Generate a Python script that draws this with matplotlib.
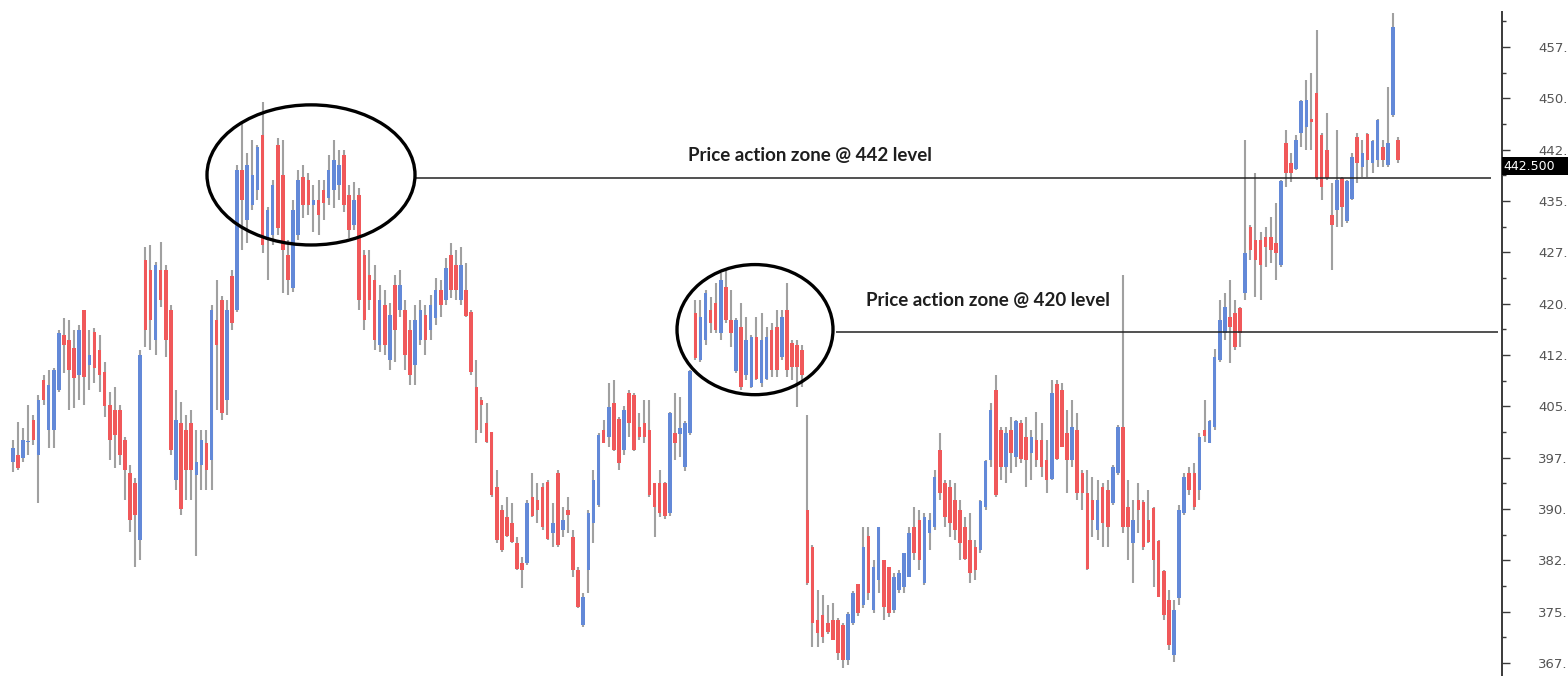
import numpy as np
import matplotlib
matplotlib.use("Agg")
import matplotlib.pyplot as plt
from matplotlib.patches import Ellipse, Rectangle
import matplotlib.transforms as mtransforms

# ---------------- data (price) ----------------
highs = [
    400.1, 402.7, 401.8, 405.2, 403.7, 406.7, 409.6, 410.3, 410.6, 416.2,
    417.9, 417.6, 416.2, 416.9, 419.1, 416.2, 416.4, 415.4, 411.5, 407.1, 407.8,
    405.2, 400.5, 396.4, 394.5, 413.2, 428.3, 428.6, 426.1, 429.0, 425.7,
    419.8, 407.4, 405.6, 403.7, 404.5, 401.5, 401.5, 401.5, 419.8, 423.5,
    421.1, 420.5, 424.9, 440.3, 446.4, 442.0, 443.9, 443.2, 449.5, 434.1,
    438.1, 444.2, 443.9, 429.3, 435.2, 439.5, 440.3, 439.1, 437.4, 438.1,
    438.1, 441.7, 443.9, 442.5, 442.5, 437.4, 437.8, 436.9, 427.9, 427.9,
    425.7, 422.7, 422.0, 420.1, 424.2, 424.9, 420.5, 417.6, 419.8, 420.5,
    419.8, 421.3, 423.8, 423.5, 426.7, 428.9, 427.9, 428.2, 425.9, 419.1,
    411.8, 406.4, 405.5, 401.2, 395.7, 390.6, 391.7, 390.9, 385.9, 383.0,
    391.3, 395.2, 393.8, 393.8, 394.2, 390.9, 395.7, 390.3, 391.7, 386.9,
    381.5, 377.7, 389.8, 395.7, 401.1, 403.0, 408.4, 408.8, 403.4, 405.0,
    407.4, 406.9, 404.0, 405.9, 405.9, 393.8, 395.7, 394.0, 404.2, 406.9,
    406.4, 402.8, 410.3, 420.5, 420.5, 422.0, 421.0, 423.0, 424.5, 424.9,
    422.0, 417.9, 420.1, 418.1, 415.4, 418.1, 418.6, 416.6, 417.2, 419.1,
    419.1, 423.0, 414.7, 414.7, 414.0, 403.7, 384.8, 378.1, 377.5, 376.0,
    376.2, 374.0, 373.3, 374.9, 378.0, 379.0, 387.4, 387.4, 382.5,
    387.4, 382.5, 381.5, 380.6, 381.1, 383.5, 387.4, 390.3, 389.8, 389.4,
    389.4, 395.7, 401.1, 394.2, 394.2, 393.8, 391.3, 388.8, 389.4, 385.4,
    391.3, 397.1, 405.5, 409.6, 402.0, 402.0, 403.4, 403.0, 403.0, 403.4,
    401.5, 404.2, 402.6, 400.1, 408.8, 408.8, 408.4, 404.5, 405.9,
    404.0, 395.7, 395.7, 394.7, 394.2, 393.8, 394.2, 396.4, 402.3, 424.2,
    394.2, 391.3, 393.8, 391.3, 392.8, 390.3, 385.4, 381.1, 378.1, 376.7,
    390.6, 395.2, 396.1, 396.7, 401.1, 405.9, 403.0, 413.4, 420.5, 421.6,
    423.5, 420.5, 419.5, 443.9, 431.5, 439.1, 430.4, 431.2, 432.6, 434.7,
    438.1, 445.4, 442.0, 444.7, 449.8, 452.7, 453.7, 460.0, 444.9, 447.9,
    437.6, 445.4, 438.5, 438.1, 442.0, 444.9, 443.9, 444.9, 443.9, 446.9,
    443.9, 451.7, 462.5, 444.4,
]
lows = [
    395.4, 395.7, 396.9, 397.9, 399.3, 390.9, 405.2, 398.9, 398.9, 407.1,
    409.9, 404.5, 404.8, 405.9, 405.2, 407.4, 408.4, 407.1, 403.5, 397.1, 396.0,
    396.4, 391.3, 386.6, 381.5, 382.5, 413.7, 413.2, 412.5, 419.5, 412.2,
    397.9, 392.8, 389.1, 391.3, 391.3, 383.1, 392.8, 392.8, 392.8, 404.5,
    403.0, 403.7, 416.2, 418.8, 427.9, 428.9, 433.7, 435.2, 427.4, 423.5,
    428.6, 430.0, 421.6, 421.3, 421.7, 429.3, 432.5, 433.0, 430.5, 430.0,
    432.2, 434.4, 434.0, 435.2, 433.4, 429.6, 430.8, 419.1, 416.2, 419.1,
    413.2, 412.9, 412.5, 410.3, 411.5, 418.0, 410.3, 408.1, 408.1, 414.0,
    412.5, 414.7, 416.9, 418.0, 419.8, 420.8, 420.5, 419.8, 418.0, 409.6,
    399.6, 401.1, 399.6, 391.7, 385.0, 383.7, 385.9, 385.0, 381.1, 378.4,
    381.8, 388.8, 387.9, 386.9, 385.4, 384.4, 384.4, 385.9, 386.5, 380.0,
    375.5, 372.7, 377.7, 385.0, 390.3, 399.6, 399.0, 398.4, 395.7, 397.9,
    400.5, 398.4, 400.1, 399.6, 391.7, 385.9, 388.8, 388.6, 389.0, 397.1,
    397.6, 395.5, 400.8, 411.8, 411.5, 414.0, 415.7, 415.7, 414.7, 417.2,
    413.7, 409.9, 407.4, 408.8, 407.7, 408.8, 407.8, 408.8, 409.3, 409.3,
    411.8, 409.3, 408.8, 404.9, 407.8, 378.9, 369.8, 369.8, 370.4, 371.8,
    370.8, 368.0, 366.8, 367.2, 373.0, 374.4, 375.5, 376.7, 374.8,
    377.7, 373.8, 374.2, 374.8, 377.7, 377.7, 380.0, 382.5, 381.1, 378.9,
    384.0, 387.0, 391.3, 387.3, 385.9, 385.4, 382.5, 382.5, 379.2, 379.6,
    383.5, 389.8, 396.1, 391.7, 394.2, 393.8, 395.2, 396.1, 396.7, 393.2,
    394.2, 396.1, 394.7, 392.3, 394.2, 397.1, 399.0, 392.3, 396.1,
    391.3, 389.8, 381.1, 385.9, 385.4, 384.4, 384.4, 390.6, 394.9, 386.5,
    382.5, 379.2, 386.5, 384.0, 385.0, 378.6, 377.1, 373.8, 369.4, 367.6,
    376.0, 389.1, 392.0, 389.8, 391.3, 399.8, 399.6, 401.5, 411.5, 414.7,
    411.3, 413.2, 413.7, 420.5, 426.4, 421.0, 420.5, 425.4, 426.0, 423.5,
    425.4, 437.1, 437.8, 439.5, 442.9, 442.5, 442.5, 438.1, 435.2, 438.1,
    424.9, 431.2, 431.2, 431.8, 435.2, 437.6, 438.5, 438.5, 439.1, 440.0,
    440.0, 440.0, 447.3, 440.6,
]
opens = [
    396.9, 397.9, 397.4, 399.8, 403.0, 397.9, 408.8, 401.5, 401.5, 407.4,
    415.4, 414.7, 413.5, 409.6, 419.1, 411.0, 415.9, 413.2, 410.0, 405.2, 404.5,
    404.5, 400.1, 395.3, 393.8, 385.4, 426.4, 424.9, 414.7, 424.9, 424.9,
    419.1, 394.2, 402.6, 401.5, 402.6, 395.0, 396.4, 399.6, 397.1, 417.6,
    420.5, 405.9, 424.0, 419.1, 439.5, 432.2, 434.4, 436.6, 444.7, 429.3,
    430.0, 443.2, 438.8, 427.1, 422.3, 430.0, 438.5, 438.1, 434.4, 435.2,
    436.6, 435.5, 436.6, 437.4, 441.7, 435.9, 431.5, 435.9, 427.1, 424.2,
    423.5, 414.0, 419.8, 411.8, 422.7, 419.1, 419.1, 416.2, 411.0, 414.7,
    418.3, 416.2, 417.9, 422.0, 420.5, 427.1, 425.7, 420.5, 422.0, 418.8,
    407.8, 405.9, 402.6, 401.2, 393.2, 389.8, 388.8, 387.9, 385.0, 382.1,
    382.1, 391.7, 391.3, 393.2, 394.0, 386.5, 395.3, 386.9, 389.8, 385.9,
    381.1, 373.0, 381.1, 388.0, 390.6, 401.5, 400.5, 405.5, 403.2, 398.6,
    406.9, 406.7, 402.0, 402.6, 401.5, 393.8, 393.8, 393.8, 389.4, 401.1,
    401.0, 396.1, 401.1, 418.6, 411.8, 414.7, 419.1, 420.1, 415.7, 422.4,
    417.6, 410.1, 416.6, 409.6, 407.8, 415.1, 408.4, 409.0, 416.2, 416.6,
    412.2, 419.1, 414.3, 414.0, 413.2, 389.8, 384.4, 373.8, 374.5, 373.4,
    373.8, 373.8, 373.0, 367.9, 373.3, 379.0, 375.9, 386.0, 375.2,
    379.6, 382.5, 381.5, 375.2, 378.1, 378.6, 380.0, 387.4, 388.4, 379.2,
    386.5, 387.4, 398.6, 393.8, 393.2, 391.3, 389.8, 387.4, 385.4, 384.4,
    384.0, 390.3, 397.1, 407.4, 401.5, 396.1, 401.5, 397.6, 402.6, 400.5,
    398.2, 400.1, 400.1, 397.1, 394.4, 408.3, 407.4, 401.1, 397.1,
    401.5, 395.3, 392.3, 391.3, 386.9, 393.2, 392.8, 390.9, 395.2, 402.0,
    390.3, 385.0, 391.3, 391.0, 388.4, 390.1, 385.3, 381.0, 376.7, 368.6,
    377.0, 389.4, 395.3, 395.3, 392.8, 401.5, 399.7, 402.0, 411.8, 415.7,
    418.1, 418.6, 419.3, 421.6, 431.2, 429.3, 429.3, 429.7, 429.7, 428.9,
    425.6, 443.5, 440.6, 439.7, 444.9, 445.8, 447.0, 450.8, 444.6, 442.5,
    433.0, 433.7, 438.3, 432.0, 435.3, 444.4, 440.0, 444.8, 440.6, 441.0,
    442.9, 440.2, 447.5, 443.9,
]
closes = [
    398.9, 396.0, 400.1, 400.0, 400.1, 405.9, 405.9, 408.1, 410.3, 415.7,
    414.0, 410.3, 409.1, 416.2, 409.3, 412.5, 410.6, 409.6, 405.0, 400.1, 400.8,
    397.9, 395.7, 388.4, 389.1, 412.5, 416.2, 417.6, 425.7, 420.5, 414.7,
    398.6, 403.0, 390.0, 395.7, 395.7, 396.9, 400.1, 395.7, 419.1, 414.0,
    404.0, 419.1, 417.2, 439.5, 435.2, 440.3, 438.8, 442.9, 428.6, 433.7,
    437.4, 431.1, 427.9, 423.5, 433.7, 438.1, 434.4, 434.4, 435.2, 433.0,
    434.7, 439.5, 441.0, 440.3, 434.4, 430.8, 435.2, 420.5, 417.6, 420.5,
    414.7, 420.5, 414.0, 418.3, 416.2, 422.7, 412.5, 409.6, 417.6, 419.1,
    414.7, 419.8, 422.0, 419.8, 425.2, 422.0, 422.0, 425.7, 418.2, 410.0,
    401.5, 405.2, 399.8, 392.0, 385.4, 384.0, 386.0, 385.2, 381.3, 381.1,
    390.9, 389.0, 389.8, 387.3, 385.6, 388.0, 384.7, 388.4, 389.1, 381.1,
    375.7, 377.1, 389.4, 394.2, 400.8, 399.7, 404.9, 398.6, 396.7, 404.5,
    402.6, 398.6, 400.5, 400.5, 392.0, 390.3, 389.4, 389.0, 404.0, 399.6,
    401.8, 402.6, 410.1, 412.0, 418.1, 421.6, 417.2, 416.2, 423.5, 417.6,
    415.7, 417.6, 407.8, 414.7, 415.1, 409.0, 414.7, 415.1, 410.3, 410.3,
    418.1, 410.3, 410.7, 410.7, 409.6, 379.2, 373.3, 371.9, 371.3, 372.0,
    370.9, 369.0, 367.9, 374.7, 377.7, 374.8, 384.4, 377.7, 381.5,
    387.3, 375.7, 374.8, 380.1, 380.6, 383.5, 386.5, 383.6, 382.5, 388.8,
    388.4, 394.7, 392.3, 388.8, 387.9, 386.9, 385.0, 382.7, 380.6, 381.1,
    391.1, 397.0, 404.5, 392.0, 396.1, 401.1, 398.2, 402.8, 397.3, 397.1,
    400.5, 397.1, 396.1, 394.2, 406.9, 397.3, 399.1, 397.1, 402.0,
    392.3, 392.3, 381.3, 388.4, 391.3, 387.9, 387.4, 396.1, 402.0, 387.4,
    387.4, 388.4, 389.8, 384.4, 385.2, 382.5, 377.2, 374.5, 370.1, 375.2,
    389.8, 394.7, 392.8, 390.3, 400.5, 400.6, 402.9, 412.2, 417.6, 419.5,
    416.6, 413.7, 415.7, 427.4, 427.9, 426.4, 425.7, 428.3, 427.9, 427.4,
    437.9, 439.1, 439.1, 443.9, 449.6, 449.8, 446.5, 438.3, 437.1, 438.3,
    431.5, 438.1, 434.1, 437.9, 441.4, 440.6, 442.0, 441.0, 443.7, 446.8,
    441.0, 443.5, 460.4, 441.0,
]

y_ticks = [367.5, 375.0, 382.5, 390.0, 397.5, 405.0, 412.5, 420.0, 427.5,
           435.0, 442.5, 450.0, 457.5]
y_tick_labels = ["367.", "375.", "382.", "390.", "397.", "405.", "412.",
                 "420.", "427.", "435.", "442.", "450.", "457."]
last_price = 442.5
last_price_label = "442.500"
zone_levels = [438.4, 415.9]
zone_labels = ["Price action zone @ 442 level", "Price action zone @ 420 level"]

# ---------------- figure ----------------
W, H = 1568, 676
fig = plt.figure(figsize=(W / 100, H / 100), dpi=100)
ax_right_px = 1502
ax_top_px = 12
ax = fig.add_axes([0, 0, ax_right_px / W, (H - ax_top_px) / H])

n = len(highs)
x = np.arange(n)
first_px, last_px = 13, 1398
s = (last_px - first_px) / (n - 1)          # pixels per bar
xmin = -first_px / s
xmax = xmin + ax_right_px / s
ax.set_xlim(xmin, xmax)
ax.set_ylim(365.6, 462.6)

def px2x(p):
    return (p - first_px) / s

o = np.array(opens)
c = np.array(closes)
hi = np.array(highs)
lo = np.array(lows)

red = "#f0585a"
blue = "#6389d8"
gray = "#a0a0a0"

ax.vlines(x, lo, hi, colors=gray, linewidth=1.5, zorder=2)
up = c >= o
body_w = 3.6 / s
ax.bar(x[up], (c - o)[up], bottom=o[up], width=body_w, color=blue,
       linewidth=0, zorder=3)
ax.bar(x[~up], (c - o)[~up], bottom=o[~up], width=body_w, color=red,
       linewidth=0, zorder=3)

# zones: ellipses + horizontal lines
ppu = 6.84  # pixels per price unit
e1 = Ellipse((px2x(311), 438.8), 208 / s, 140 / ppu, fill=False,
             edgecolor="black", linewidth=2.4, zorder=5)
e2 = Ellipse((px2x(755), 416.2), 156 / s, 130 / ppu, fill=False,
             edgecolor="black", linewidth=2.4, zorder=5)
ax.add_patch(e1)
ax.add_patch(e2)
ax.hlines(zone_levels[0], px2x(415), px2x(1491), colors="#222222",
          linewidth=1.1, zorder=4)
ax.hlines(zone_levels[1], px2x(836), px2x(1498), colors="#222222",
          linewidth=1.1, zorder=4)

ax.text(px2x(810), 441.6, zone_labels[0], ha="center", va="center",
        fontsize=13.5, fontweight="bold", family="Lato", color="#1e1e1e",
        zorder=6)
ax.text(px2x(988), 420.4, zone_labels[1], ha="center", va="center",
        fontsize=13.5, fontweight="bold", family="Lato", color="#1e1e1e",
        zorder=6)

# right axis
for side in ["left", "top", "bottom"]:
    ax.spines[side].set_visible(False)
ax.spines["right"].set_color("#3a3a3a")
ax.spines["right"].set_linewidth(1.4)
ax.set_xticks([])
ax.yaxis.tick_right()
ax.set_yticks(y_ticks)
ax.set_yticklabels(y_tick_labels)
ax.set_yticks([v + 3.75 for v in y_ticks], minor=True)
ax.tick_params(axis="y", which="major", length=6, width=1.0, color="#3a3a3a",
               labelsize=9.5, labelcolor="#555555", pad=20)
ax.tick_params(axis="y", which="minor", length=3, width=1.0, color="#3a3a3a")

# last-price box
trans = mtransforms.blended_transform_factory(ax.transAxes, ax.transData)
box_bottom = 438.8
box_top = 441.4
ax.add_patch(Rectangle((1.0, box_bottom), (W - ax_right_px) / ax_right_px + 0.01,
                       box_top - box_bottom, transform=trans, facecolor="black",
                       edgecolor="none", clip_on=False, zorder=10))
ax.text(1.0 + 1.5 / ax_right_px, (box_top + box_bottom) / 2, last_price_label,
        transform=trans, ha="left", va="center", fontsize=9, color="white",
        clip_on=False, zorder=11)

fig.savefig("out.png", dpi=100, facecolor="white")
